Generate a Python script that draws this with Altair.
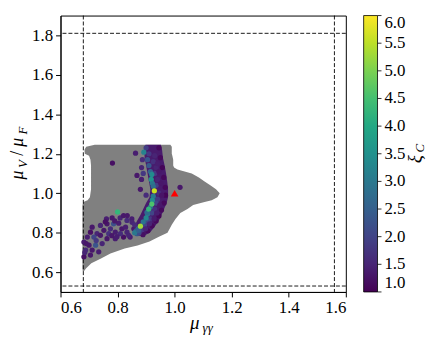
import altair as alt
import pandas as pd

# ---------------- data ----------------
# grey scan region: horizontal spans (y, left x, right x)
grey_y = [1.245, 1.235, 1.22, 1.20, 1.19, 1.17, 1.14, 1.13, 1.12, 1.10, 1.08, 1.06, 1.04, 1.02,
          1.00, 0.98, 0.965, 0.955, 0.94, 0.92, 0.90, 0.87, 0.84, 0.80, 0.78, 0.755, 0.735,
          0.72, 0.695, 0.67, 0.645, 0.62, 0.605]
grey_left = [0.72, 0.69, 0.684, 0.685, 0.700, 0.705, 0.707, 0.707, 0.707, 0.707, 0.707, 0.707,
             0.707, 0.707, 0.705, 0.703, 0.695, 0.68, 0.677, 0.677, 0.677, 0.677, 0.677, 0.677,
             0.677, 0.677, 0.677, 0.677, 0.677, 0.677, 0.677, 0.677, 0.678]
grey_right = [0.985, 0.99, 0.99, 0.99, 0.992, 0.995, 0.995, 0.998, 1.01, 1.06, 1.085, 1.105,
              1.125, 1.145, 1.158, 1.15, 1.13, 1.105, 1.065, 1.045, 1.02, 1.003, 0.99, 0.975,
              0.945, 0.912, 0.87, 0.825, 0.775, 0.742, 0.708, 0.69, 0.682]

# dense xi_C band: horizontal spans
band_y = [1.245, 1.22, 1.18, 1.14, 1.10, 1.06, 1.02, 0.98, 0.95, 0.92, 0.89, 0.86, 0.83, 0.80, 0.785]
band_left = [0.898, 0.893, 0.895, 0.90, 0.905, 0.91, 0.915, 0.912, 0.90, 0.89, 0.88, 0.868, 0.858, 0.855, 0.862]
band_right = [0.952, 0.956, 0.959, 0.965, 0.970, 0.974, 0.977, 0.977, 0.972, 0.963, 0.954, 0.944, 0.930, 0.913, 0.893]
band_level = 1.35

# individual coloured points (mu_gg, muV/muF, xi_C)
pts_x = [
    # tail towards lower left
    0.761, 0.781, 0.809, 0.821, 0.833, 0.85, 0.711, 0.74, 0.763, 0.786, 0.804, 0.775, 0.752,
    0.728, 0.705, 0.694, 0.717, 0.74, 0.769, 0.792, 0.815, 0.833, 0.844, 0.821, 0.792, 0.763,
    0.746, 0.723, 0.70, 0.682, 0.688, 0.711, 0.734, 0.682, 0.705, 0.834, 0.851, 0.828, 0.857,
    0.839, 0.868, 0.725, 0.757, 0.69, 0.685, 0.78, 0.81, 0.79, 0.86, 0.798,
    # isolated points
    0.782, 0.863, 0.868, 0.884, 0.884, 0.88, 0.90, 1.019, 0.887, 0.89,
    # right edge of band (dark)
    0.945, 0.950, 0.957, 0.962, 0.967, 0.968, 0.963, 0.954, 0.945, 0.935, 0.921, 0.906, 0.889,
    # middle of band
    0.90, 0.91, 0.93, 0.925, 0.935, 0.93, 0.94, 0.935, 0.945, 0.94, 0.935, 0.93, 0.92, 0.915,
    0.905, 0.895, 0.885, 0.875, 0.94, 0.945, 0.952, 0.955, 0.948, 0.938, 0.928, 0.912, 0.898,
    # brighter points on inner side
    0.892, 0.905, 0.91, 0.915, 0.92, 0.918, 0.922, 0.925, 0.925, 0.922, 0.915, 0.905, 0.90,
    0.89, 0.872, 0.865, 0.86, 0.874, 0.903, 0.909, 0.92, 0.88, 0.929, 0.80,
]
pts_y = [
    0.87, 0.875, 0.875, 0.887, 0.862, 0.87, 0.828, 0.837, 0.845, 0.845, 0.848, 0.82, 0.812,
    0.795, 0.803, 0.778, 0.778, 0.787, 0.795, 0.803, 0.82, 0.803, 0.778, 0.778, 0.77, 0.77,
    0.745, 0.737, 0.737, 0.753, 0.712, 0.712, 0.703, 0.678, 0.687, 0.887, 0.853, 0.828, 0.82,
    0.787, 0.795, 0.76, 0.855, 0.745, 0.70, 0.785, 0.795, 0.86, 0.84, 0.78,
    1.153, 1.203, 1.09, 1.13, 1.07, 1.02, 0.99, 1.03, 1.17, 1.10,
    1.23, 1.18, 1.13, 1.08, 1.03, 0.99, 0.95, 0.915, 0.885, 0.86, 0.835, 0.81, 0.79,
    1.23, 1.20, 1.19, 1.16, 1.13, 1.10, 1.07, 1.04, 1.00, 0.97, 0.95, 0.92, 0.90, 0.87,
    0.86, 0.84, 0.815, 0.80, 1.15, 1.11, 1.05, 0.99, 0.94, 0.90, 0.87, 0.845, 0.82,
    1.208, 1.17, 1.14, 1.11, 1.095, 1.07, 1.05, 1.035, 0.985, 0.965, 0.93, 0.895, 0.875,
    0.855, 0.82, 0.81, 0.80, 0.812, 0.903, 0.92, 0.945, 0.833, 1.012, 0.905,
]
pts_v = [
    1.4, 1.3, 1.5, 1.3, 1.6, 1.4, 1.3, 1.5, 1.3, 2.2, 1.4, 1.6, 1.3,
    1.5, 1.2, 1.4, 2.0, 1.3, 1.7, 1.4, 1.3, 1.5, 1.4, 1.2, 1.4, 1.3,
    1.5, 2.3, 1.3, 1.4, 1.6, 1.3, 1.4, 1.2, 1.3, 1.3, 1.5, 1.4, 1.3,
    1.5, 2.4, 1.8, 1.2, 1.3, 1.5, 1.3, 1.6, 1.3, 1.6, 1.4,
    1.2, 1.4, 1.3, 1.5, 1.4, 1.3, 1.6, 1.3, 1.6, 1.8,
    1.1, 1.1, 1.05, 1.1, 1.1, 1.05, 1.1, 1.1, 1.05, 1.1, 1.1, 1.1, 1.2,
    1.9, 1.8, 1.5, 1.7, 1.5, 1.8, 1.5, 1.9, 1.6, 1.8, 2.0, 1.7, 2.0, 1.8,
    2.1, 2.0, 1.8, 2.1, 1.4, 1.3, 1.3, 1.25, 1.3, 1.4, 1.35, 1.5, 1.5,
    3.2, 2.3, 2.4, 2.6, 3.4, 3.6, 3.0, 2.8, 3.0, 3.4, 2.8, 3.0, 3.3,
    2.9, 2.6, 2.4, 3.0, 2.5, 2.7, 4.3, 4.6, 5.3, 5.6, 4.3,
]

sm_x = [1.0]
sm_y = [1.0]

vlines = [0.68, 1.56]
hlines = [0.53, 1.81]

legend_values = [1.0, 1.5, 2.0, 2.5, 3.0, 3.5, 4.0, 4.5, 5.0, 5.5, 6.0]

# title pieces
ytitle_text = ["μ", "V", "/", "μ", "F"]
xtitle_text = ["μ", "γγ"]
ctitle_text = ["ξ", "C"]

# ---------------- chart ----------------
FONT = "Liberation Serif"
W, H = 288, 279

xs = alt.Scale(domain=[0.6, 1.6], nice=False, zero=False)
ys = alt.Scale(domain=[0.5, 1.9], nice=False, zero=False)
cs = alt.Scale(scheme="viridis", domain=[1, 6])
cbar_scale = alt.Scale(domain=[1, 6], nice=False, zero=False)

legend = alt.Legend(
    title=None, orient="right", offset=18, padding=0,
    gradientLength=H, gradientThickness=14,
    gradientStrokeColor="black", gradientStrokeWidth=0.8,
    values=legend_values, format=".1f",
    labelFont=FONT, labelFontSize=17, labelColor="black",
    labelOffset=7, labelBaseline="middle", labelOverlap=False,
    direction="vertical",
)

grey_df = pd.DataFrame({"y": grey_y, "xl": grey_left, "xr": grey_right})
band_df = pd.DataFrame({"y": band_y, "xl": band_left, "xr": band_right,
                        "v": [band_level] * len(band_y)})
pts_df = pd.DataFrame({"x": pts_x, "y": pts_y, "v": pts_v})
sm_df = pd.DataFrame({"x": sm_x, "y": sm_y})
cbar_df = pd.DataFrame({"v": legend_values})

xaxis = alt.Axis(values=[0.6, 0.8, 1.0, 1.2, 1.4, 1.6], format=".1f", title=None, grid=False,
                 labelFont=FONT, labelFontSize=17, labelColor="black", tickColor="black",
                 domainColor="black", tickSize=5, labelPadding=3)
yaxis = alt.Axis(values=[0.6, 0.8, 1.0, 1.2, 1.4, 1.6, 1.8], format=".1f", title=None, grid=False,
                 labelFont=FONT, labelFontSize=17, labelColor="black", tickColor="black",
                 domainColor="black", tickSize=5, labelPadding=3)

grey = alt.Chart(grey_df).mark_area(orient="horizontal", color="#808080", opacity=1).encode(
    y=alt.Y("y:Q", scale=ys, axis=yaxis),
    x=alt.X("xl:Q", scale=xs, axis=xaxis),
    x2="xr:Q",
)

band = alt.Chart(band_df).mark_area(orient="horizontal", opacity=1).encode(
    y=alt.Y("y:Q", scale=ys, axis=None),
    x=alt.X("xl:Q", scale=xs),
    x2="xr:Q",
    color=alt.Color("v:Q", scale=cs, legend=legend),
)

vr = alt.Chart(pd.DataFrame({"x": vlines})).mark_rule(
    color="black", strokeDash=[4, 2], strokeWidth=0.9).encode(x=alt.X("x:Q", scale=xs))
hr = alt.Chart(pd.DataFrame({"y": hlines})).mark_rule(
    color="black", strokeDash=[4, 2], strokeWidth=0.9).encode(
    y=alt.Y("y:Q", scale=ys, axis=None))

pts = alt.Chart(pts_df).mark_circle(size=28, opacity=1).encode(
    x=alt.X("x:Q", scale=xs),
    y=alt.Y("y:Q", scale=ys, axis=None),
    color=alt.Color("v:Q", scale=cs, legend=legend),
)

sm = alt.Chart(sm_df).mark_point(shape="triangle-up", filled=True, size=60, color="red",
                                 opacity=1).encode(
    x=alt.X("x:Q", scale=xs), y=alt.Y("y:Q", scale=ys, axis=None))

# small tick marks on the right side of the colour bar
cbar_ticks = alt.Chart(cbar_df).mark_rule(color="black", strokeWidth=0.8).encode(
    y=alt.Y("v:Q", scale=cbar_scale, axis=None),
    x=alt.value(W + 18 + 14),
    x2=alt.value(W + 18 + 14 + 4),
)


def piece(txt, px, py, size, angle=0, italic=True, baseline="alphabetic"):
    return alt.Chart(pd.DataFrame({"t": [txt]})).mark_text(
        font=FONT, fontSize=size, fontStyle="italic" if italic else "normal",
        color="black", align="center", baseline=baseline, angle=angle,
    ).encode(x=alt.value(px), y=alt.value(py), text="t:N")


titles = [
    piece(xtitle_text[0], 135.5, 316, 19),
    piece(xtitle_text[1], 148.5, 319, 13),
    piece(ytitle_text[0], -43, 161, 18, 270, baseline="middle"),
    piece(ytitle_text[1], -38, 150, 13, 270, baseline="middle"),
    piece(ytitle_text[2], -43, 139, 18, 270, italic=False, baseline="middle"),
    piece(ytitle_text[3], -43, 128, 18, 270, baseline="middle"),
    piece(ytitle_text[4], -38, 116, 13, 270, baseline="middle"),
    piece(ctitle_text[0], 358, 145, 19, 270, baseline="middle"),
    piece(ctitle_text[1], 363, 134, 13, 270, baseline="middle"),
]

chart = alt.layer(grey, band, vr, hr, pts, sm, cbar_ticks, *titles).resolve_scale(
    y="independent"
).properties(
    width=W, height=H,
    autosize=alt.AutoSizeParams(type="none"),
    padding={"left": 53, "top": 6, "right": 88, "bottom": 60},
).configure(background="white", font=FONT).configure_view(stroke="black", strokeWidth=1)

chart.save("out.html", embed_options={"renderer": "svg", "actions": False})
